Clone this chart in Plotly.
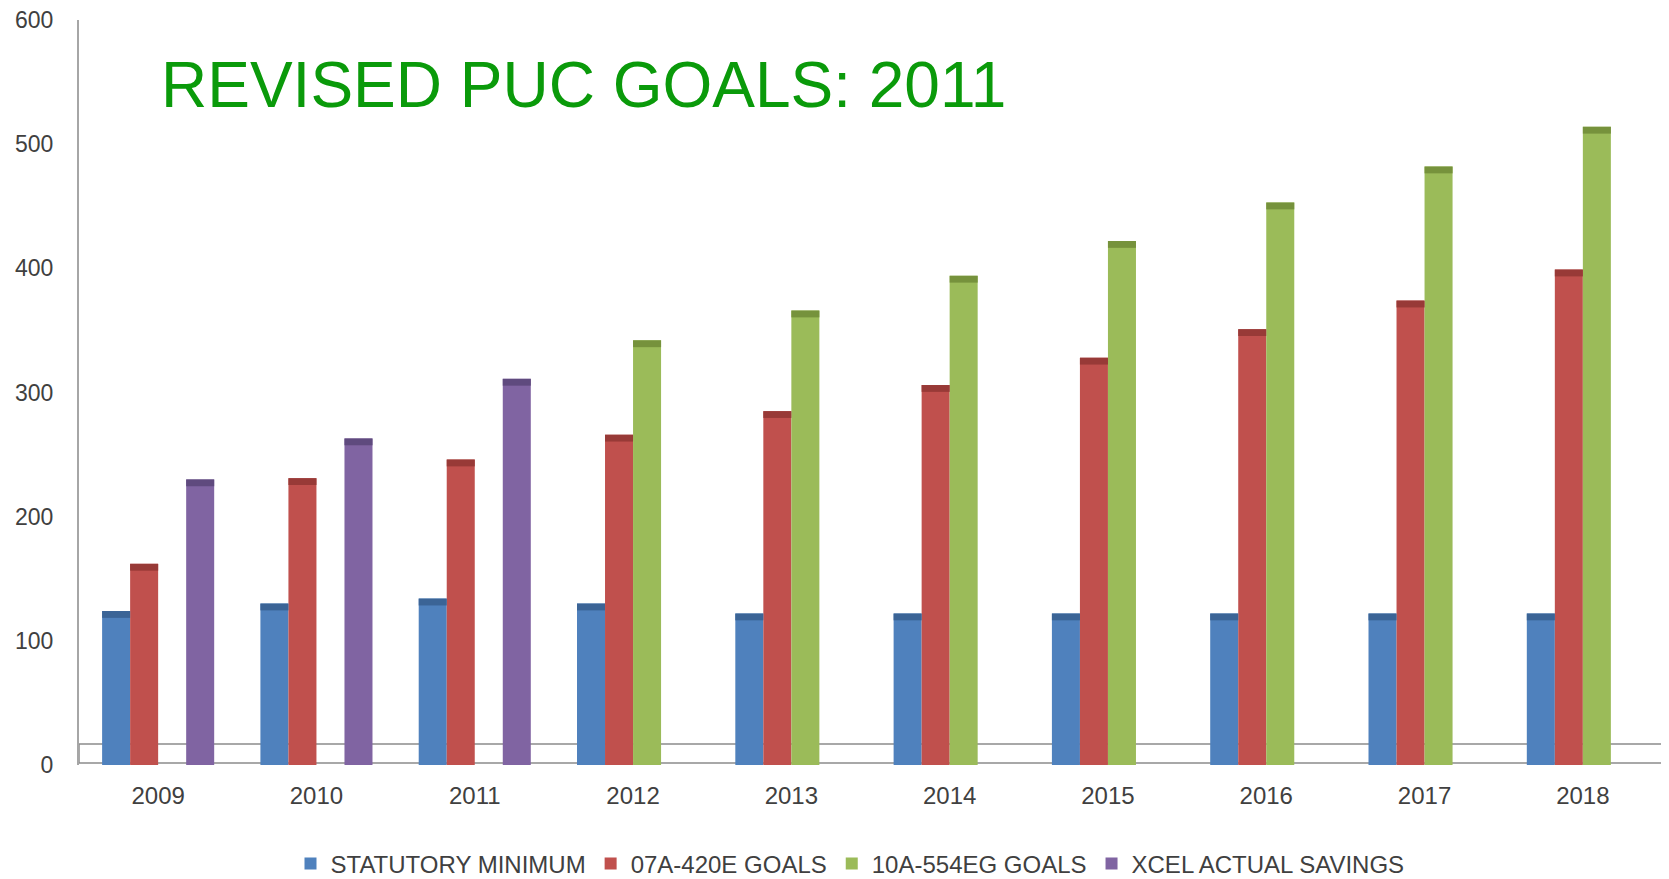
import plotly.graph_objects as go

years = ["2009", "2010", "2011", "2012", "2013", "2014", "2015", "2016", "2017", "2018"]
statutory_minimum = [124, 130, 134, 130, 122, 122, 122, 122, 122, 122]
goals_07a_420e = [162, 231, 246, 266, 285, 306, 328, 351, 374, 399]
goals_10a_554eg = [None, None, None, 342, 366, 394, 422, 453, 482, 514]
xcel_actual_savings = [230, 263, 311, None, None, None, None, None, None, None]

series_names = ["STATUTORY MINIMUM", "07A-420E GOALS", "10A-554EG GOALS", "XCEL ACTUAL SAVINGS"]
series_values = [statutory_minimum, goals_07a_420e, goals_10a_554eg, xcel_actual_savings]
colors = ["#4F81BD", "#C0504D", "#9BBB59", "#8064A2"]
cap_colors = ["#3B6496", "#983A37", "#76923C", "#5F4A7E"]

BAR_W = 0.177
CAP = 5.5
offsets = [-2 * BAR_W, -BAR_W, 0, BAR_W]

fig = go.Figure()
for name, vals, col, off in zip(series_names, series_values, colors, offsets):
    fig.add_trace(go.Bar(
        x=years, y=vals, name=name, marker=dict(color=col, line=dict(width=0)),
        width=BAR_W, offset=off, showlegend=True,
    ))
for name, vals, col, off in zip(series_names, series_values, cap_colors, offsets):
    bases = [None if v is None else v - CAP for v in vals]
    caps = [None if v is None else CAP for v in vals]
    fig.add_trace(go.Bar(
        x=years, y=caps, base=bases, name=name + " top",
        marker=dict(color=col, line=dict(width=0)),
        width=BAR_W, offset=off, showlegend=False, hoverinfo="skip",
    ))

# floor of the pseudo-3D chart
fig.add_shape(type="rect", xref="paper", yref="y", x0=0, x1=1.0006, y0=1.6, y1=16.9,
              line=dict(color="#8C8C8C", width=1.5), fillcolor="rgba(0,0,0,0)", layer="below")

fig.add_annotation(
    text="REVISED PUC GOALS: 2011", xref="paper", yref="paper",
    x=(159 - 79) / 1583, y=(765 - 85) / 745, xanchor="left", yanchor="middle",
    showarrow=False, font=dict(family="Liberation Sans, Arial, sans-serif", size=64, color="#0A9A0A"),
)

# page body has an 8px margin, so the figure is sized/offset to compensate
fig.update_layout(
    width=1661, height=871,
    margin=dict(l=71, r=7, t=12, b=114, autoexpand=False),
    paper_bgcolor="white", plot_bgcolor="white",
    barmode="overlay",
    font=dict(family="Liberation Sans, Arial, sans-serif", color="#404040"),
    legend=dict(orientation="h", xref="container", yref="container",
                x=842 / 1661, xanchor="center", y=1 - 856 / 871, yanchor="middle",
                font=dict(size=24, color="#404040"), itemsizing="constant",
                traceorder="normal"),
    xaxis=dict(type="category", range=[-0.5, 9.5], showline=False, showgrid=False,
               zeroline=False, ticks="outside", ticklen=9, tickcolor="rgba(0,0,0,0)",
               tickfont=dict(size=24, color="#404040"), automargin=False),
    yaxis=dict(range=[0, 600], dtick=100, showgrid=False, zeroline=False,
               showline=True, linecolor="#A6A6A6", linewidth=2,
               ticks="outside", ticklen=19, tickcolor="rgba(0,0,0,0)",
               ticklabeloverflow="allow",
               tickfont=dict(size=23, color="#404040"), automargin=False),
)

fig.write_html("out.html")
